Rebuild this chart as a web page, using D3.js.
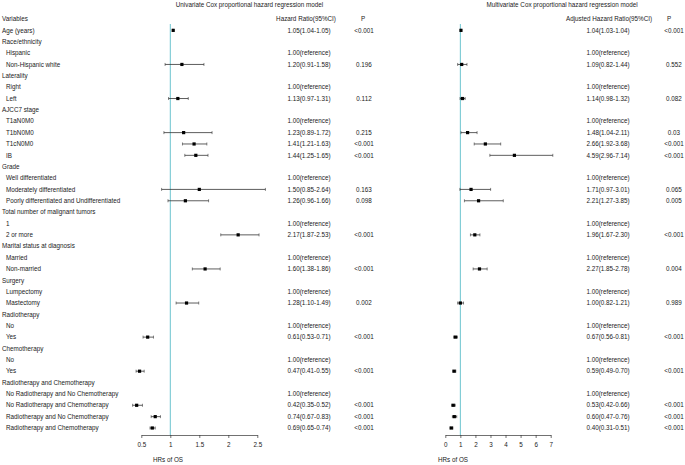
<!DOCTYPE html>
<html>
<head>
<meta charset="utf-8">
<script src="https://cdn.jsdelivr.net/npm/d3@7"></script>
<style>
  body { margin: 0; background: #fff; }
  text { font-family: "Liberation Sans", Arial, sans-serif; fill: #1a1a1a; }
</style>
</head>
<body>
<div id="chart"></div>
<script>
// rows of the table (Variables header sits above them)
const rowLabels = [
  'Age (years)', 'Race/ethnicity', 'Hispanic', 'Non-Hispanic white',
  'Laterality', 'Right', 'Left',
  'AJCC7 stage', 'T1aN0M0', 'T1bN0M0', 'T1cN0M0', 'IB',
  'Grade', 'Well differentiated', 'Moderately differentiated', 'Poorly differentiated and Undifferentiated',
  'Total number of malignant tumors', '1', '2 or more',
  'Marital status at diagnosis', 'Married', 'Non-married',
  'Surgery', 'Lumpectomy', 'Mastectomy',
  'Radiotherapy', 'No', 'Yes',
  'Chemotherapy', 'No', 'Yes',
  'Radiotherapy and Chemotherapy', 'No Radiotherapy and No Chemotherapy', 'No Radiotherapy and Chemotherapy',
  'Radiotherapy and No Chemotherapy', 'Radiotherapy and Chemotherapy'
];
// 0 = variable / group name, 1 = level
const rowLevel = [0, 0, 1, 1, 0, 1, 1, 0, 1, 1, 1, 1, 0, 1, 1, 1, 0, 1, 1, 0, 1, 1, 0, 1, 1, 0, 1, 1, 0, 1, 1, 0, 1, 1, 1, 1];

// univariate model (null = no estimate, hr 1 with no CI = reference)
const uniHR   = [1.05, null, 1.00, 1.20, null, 1.00, 1.13, null, 1.00, 1.23, 1.41, 1.44, null, 1.00, 1.50, 1.26, null, 1.00, 2.17, null, 1.00, 1.60, null, 1.00, 1.28, null, 1.00, 0.61, null, 1.00, 0.47, null, 1.00, 0.42, 0.74, 0.69];
const uniLow  = [1.04, null, null, 0.91, null, null, 0.97, null, null, 0.89, 1.21, 1.25, null, null, 0.85, 0.96, null, null, 1.87, null, null, 1.38, null, null, 1.10, null, null, 0.53, null, null, 0.41, null, null, 0.35, 0.67, 0.65];
const uniHigh = [1.05, null, null, 1.58, null, null, 1.31, null, null, 1.72, 1.63, 1.65, null, null, 2.64, 1.66, null, null, 2.53, null, null, 1.86, null, null, 1.49, null, null, 0.71, null, null, 0.55, null, null, 0.52, 0.83, 0.74];
const uniP    = ['<0.001', '', '', '0.196', '', '', '0.112', '', '', '0.215', '<0.001', '<0.001', '', '', '0.163', '0.098', '', '', '<0.001', '', '', '<0.001', '', '', '0.002', '', '', '<0.001', '', '', '<0.001', '', '', '<0.001', '<0.001', '<0.001'];

// multivariate model
const mulHR   = [1.04, null, 1.00, 1.09, null, 1.00, 1.14, null, 1.00, 1.48, 2.66, 4.59, null, 1.00, 1.71, 2.21, null, 1.00, 1.96, null, 1.00, 2.27, null, 1.00, 1.00, null, 1.00, 0.67, null, 1.00, 0.59, null, 1.00, 0.53, 0.60, 0.40];
const mulLow  = [1.03, null, null, 0.82, null, null, 0.98, null, null, 1.04, 1.92, 2.96, null, null, 0.97, 1.27, null, null, 1.67, null, null, 1.85, null, null, 0.82, null, null, 0.56, null, null, 0.49, null, null, 0.42, 0.47, 0.31];
const mulHigh = [1.04, null, null, 1.44, null, null, 1.32, null, null, 2.11, 3.68, 7.14, null, null, 3.01, 3.85, null, null, 2.30, null, null, 2.78, null, null, 1.21, null, null, 0.81, null, null, 0.70, null, null, 0.66, 0.76, 0.51];
const mulP    = ['<0.001', '', '', '0.552', '', '', '0.082', '', '', '0.03', '<0.001', '<0.001', '', '', '0.065', '0.005', '', '', '<0.001', '', '', '0.004', '', '', '0.989', '', '', '<0.001', '', '', '<0.001', '', '', '<0.001', '<0.001', '<0.001'];

const uniTicks = [0.5, 1, 1.5, 2, 2.5];
const mulTicks = [0, 1, 2, 3, 4, 5, 6, 7];

const width = 685;
const height = 465;
const fs = 6.3;
const refColor = '#6cc4cf';
const axisY = 435;

const svg = d3.select('div#chart').append('svg').attr('width', width).attr('height', height);

const y = d3.scaleLinear().domain([-1, rowLabels.length - 1]).range([19, 428]);
const xUni = d3.scaleLinear().domain([0.5, 2.5]).range([141.3, 257.3]);
const xMul = d3.scaleLinear().domain([0, 7]).range([445.3, 550.7]);

const fmt = d3.format('.2f');
const hrText = (hr, lo, hi) => hr == null ? '' : (lo == null ? fmt(hr) + '(reference)' : `${fmt(hr)}(${fmt(lo)}-${fmt(hi)})`);

const txt = (x, yy, s, anchor) => svg.append('text')
  .attr('x', x).attr('y', yy)
  .attr('dy', '0.35em')
  .attr('text-anchor', anchor || 'start')
  .style('font-size', fs + 'px')
  .text(s);

// titles and headers
txt(249.5, 5, 'Univariate Cox proportional hazard regression model', 'middle');
txt(562, 5, 'Multivariate Cox proportional hazard regression model', 'middle');
txt(2, y(-1), 'Variables');
txt(306, y(-1), 'Hazard Ratio(95%CI)', 'middle');
txt(363, y(-1), 'P', 'middle');
txt(609, y(-1), 'Adjusted Hazard Ratio(95%CI)', 'middle');
txt(669, y(-1), 'P', 'middle');

// row labels and table columns
rowLabels.forEach((lab, i) => {
  txt(rowLevel[i] ? 6 : 2, y(i), lab);
  txt(309, y(i), hrText(uniHR[i], uniLow[i], uniHigh[i]), 'middle');
  txt(364, y(i), uniP[i], 'middle');
  txt(608, y(i), hrText(mulHR[i], mulLow[i], mulHigh[i]), 'middle');
  txt(674, y(i), mulP[i], 'middle');
});

function forest(x, hr, lo, hi, ticks, labelX) {
  const g = svg.append('g');
  // reference line at HR = 1
  g.append('line')
    .attr('x1', x(1)).attr('x2', x(1))
    .attr('y1', 24).attr('y2', axisY)
    .attr('stroke', refColor).attr('stroke-width', 1);

  const idx = d3.range(hr.length).filter(i => lo[i] != null);
  const rows = g.selectAll('g.row').data(idx).enter().append('g').attr('class', 'row');
  rows.append('line')
    .attr('x1', i => x(lo[i])).attr('x2', i => x(hi[i]))
    .attr('y1', i => y(i)).attr('y2', i => y(i))
    .attr('stroke', '#333').attr('stroke-width', 0.8);
  ['lo', 'hi'].forEach(k => {
    rows.append('line')
      .attr('x1', i => x(k == 'lo' ? lo[i] : hi[i])).attr('x2', i => x(k == 'lo' ? lo[i] : hi[i]))
      .attr('y1', i => y(i) - 1.5).attr('y2', i => y(i) + 1.5)
      .attr('stroke', '#333').attr('stroke-width', 0.6);
  });
  rows.append('rect')
    .attr('x', i => x(hr[i]) - 1.6).attr('y', i => y(i) - 1.6)
    .attr('width', 3.2).attr('height', 3.2)
    .attr('fill', '#000');

  const axis = d3.axisBottom(x).tickValues(ticks).tickFormat(d => String(d)).tickSize(3).tickSizeOuter(0);
  const ag = g.append('g').attr('transform', `translate(0,${axisY})`).call(axis);
  ag.select('.domain').attr('stroke', '#333').attr('stroke-width', 0.7);
  ag.selectAll('.tick line').attr('stroke', '#333').attr('stroke-width', 0.7);
  ag.selectAll('.tick text').attr('y', 8).style('font-size', fs + 'px').style('font-family', '"Liberation Sans", Arial, sans-serif').attr('fill', '#1a1a1a');

  txt(labelX, 460, 'HRs of OS', 'middle');
}

forest(xUni, uniHR, uniLow, uniHigh, uniTicks, 168);
forest(xMul, mulHR, mulLow, mulHigh, mulTicks, 453);
</script>
</body>
</html>
